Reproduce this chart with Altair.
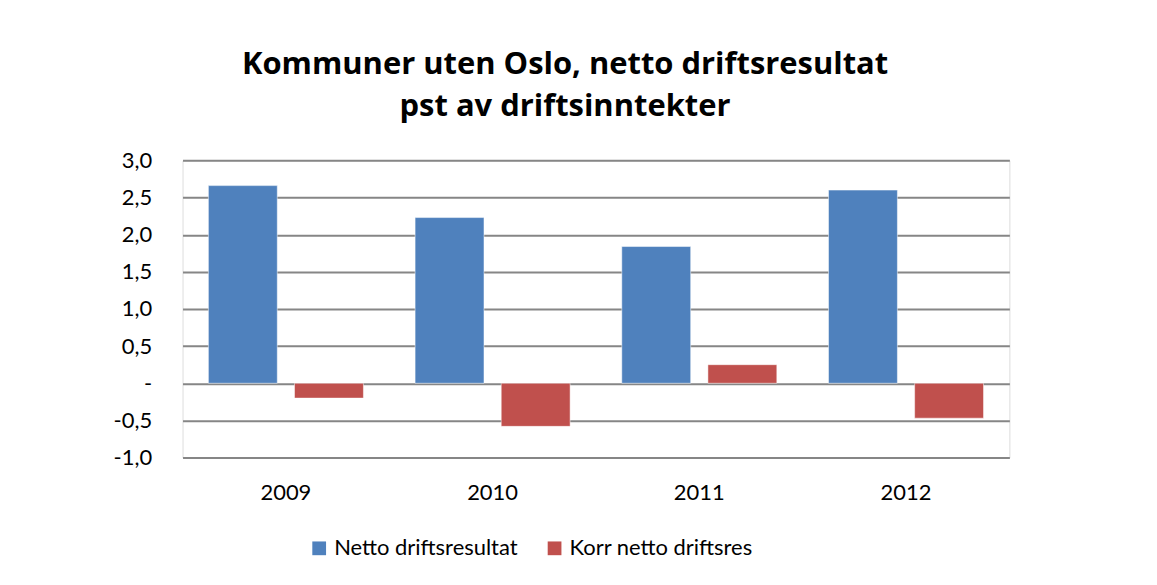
import altair as alt
import pandas as pd

years = ["2009", "2010", "2011", "2012"]
series = ["Netto driftsresultat", "Korr netto driftsres"]
netto = [2.66, 2.23, 1.84, 2.60]
korr = [-0.20, -0.58, 0.25, -0.47]
colors = ["#4F81BD", "#C0504D"]
y_ticks = [-1.0, -0.5, 0.0, 0.5, 1.0, 1.5, 2.0, 2.5, 3.0]
title_lines = ["Kommuner uten Oslo, netto driftsresultat", "pst av driftsinntekter"]

rows = []
for i, yr in enumerate(years):
    rows.append({"year": yr, "series": series[0], "value": netto[i]})
    rows.append({"year": yr, "series": series[1], "value": korr[i]})
df = pd.DataFrame(rows)

FONT = "Lato"

label_expr = ("datum.value == 0 ? '-' : replace(replace(format(datum.value, '.1f'), '.', ','), '\u2212', '-')")

bars = alt.Chart(df).mark_bar(stroke="white", strokeWidth=0.5).encode(
    x=alt.X("year:N", sort=years, title=None,
            scale=alt.Scale(paddingInner=0.25, paddingOuter=0.125),
            axis=alt.Axis(labelAngle=0, labelFontSize=22, labelPadding=25,
                          ticks=False, domain=False, labelColor="#000000",
                          labelFont=FONT)),
    xOffset=alt.XOffset("series:N", sort=series,
                        scale=alt.Scale(paddingInner=0.2, paddingOuter=0)),
    y=alt.Y("value:Q", title=None,
            scale=alt.Scale(domain=[-1.0, 3.0], nice=False),
            axis=alt.Axis(values=y_ticks, labelExpr=label_expr, labelFontSize=22,
                          labelPadding=31, ticks=False, domain=False,
                          grid=True, gridColor="#868686", gridWidth=2,
                          labelColor="#000000", labelFont=FONT)),
    color=alt.Color("series:N", sort=series,
                    scale=alt.Scale(domain=series, range=colors),
                    legend=alt.Legend(title=None, orient="none", direction="horizontal",
                                      legendX=126, legendY=378,
                                      symbolType="square", symbolSize=190,
                                      symbolStrokeWidth=0, labelLimit=0,
                                      labelFontSize=22, labelFont=FONT,
                                      labelColor="#000000", columnPadding=26,
                                      labelOffset=4)),
)

chart = bars.properties(
    width=829,
    height=298,
    title=alt.TitleParams(text=title_lines, fontSize=31, font="Open Sans", fontWeight="bold",
                          color="#000000", anchor="middle", dx=-31, offset=26,
                          lineHeight=43),
    padding={"left": 175, "top": 152, "right": 140, "bottom": 120},
    autosize=alt.AutoSizeParams(type="none"),
).configure_view(stroke=None).configure(background="white")

chart.save("out.html", embed_options={"renderer": "svg", "actions": False})
